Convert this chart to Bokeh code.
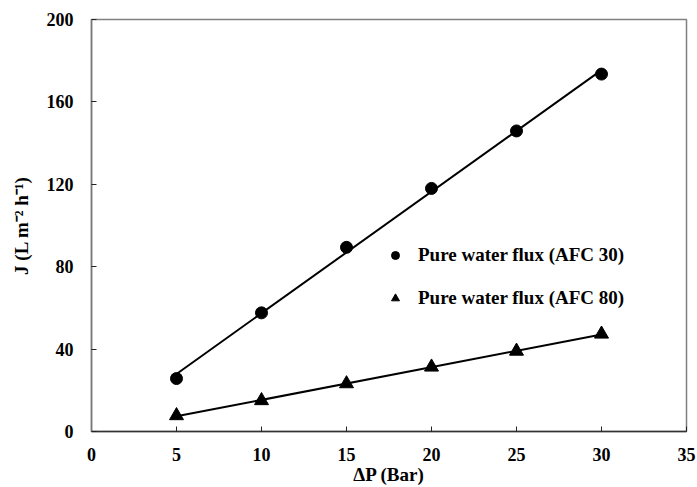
import numpy as np
from bokeh.plotting import figure
from bokeh.models import Range1d, FixedTicker, Legend, LegendItem
from bokeh.embed import file_html
from bokeh.resources import INLINE

pressure = [5, 10, 15, 20, 25, 30]
flux_afc30 = [25.7, 57.6, 89.4, 118.0, 145.9, 173.5]
flux_afc80 = [7.7, 15.0, 23.2, 31.3, 39.0, 47.3]
x_ticks = [0, 5, 10, 15, 20, 25, 30, 35]
y_ticks = [0, 40, 80, 120, 160, 200]
label_30 = "Pure water flux (AFC 30)"
label_80 = "Pure water flux (AFC 80)"

FONT = "Liberation Serif"

p = figure(width=697, height=487, output_backend="svg", toolbar_location=None,
           x_range=Range1d(0, 35), y_range=Range1d(0, 200),
           min_border_left=91, min_border_right=11, min_border_top=19, min_border_bottom=55)
p.outline_line_color = "#808080"
p.outline_line_width = 1.5
p.xgrid.visible = False
p.ygrid.visible = False
p.background_fill_color = "white"
p.border_fill_color = "white"

p.xaxis.ticker = FixedTicker(ticks=x_ticks)
p.yaxis.ticker = FixedTicker(ticks=y_ticks)
for ax in (p.xaxis[0], p.yaxis[0]):
    ax.major_tick_in = 5
    ax.major_tick_out = 0
    ax.minor_tick_line_color = None
    ax.major_tick_line_color = "#222222"
    ax.major_label_text_font = FONT
    ax.major_label_text_font_style = "bold"
    ax.major_label_text_font_size = "18px"
    ax.major_label_text_color = "black"
    ax.axis_label_text_font = FONT
    ax.axis_label_text_font_style = "bold"
    ax.axis_label_text_font_size = "19px"
    ax.axis_label_text_color = "black"
    ax.axis_line_width = 1.5
p.xaxis.axis_line_color = "#333333"
p.yaxis.axis_line_color = "#777777"
p.xaxis.axis_label = "ΔP (Bar)"
p.yaxis.axis_label = "J (L m⁻² h⁻¹)"
p.xaxis.major_label_standoff = 16
p.xaxis.axis_label_standoff = 0
p.yaxis.major_label_standoff = 18
p.yaxis.axis_label_standoff = 12

xs = np.array(pressure, dtype=float)
for ys in (flux_afc30, flux_afc80):
    m, b = np.polyfit(xs, np.array(ys), 1)
    p.line([xs[0], xs[-1]], [m * xs[0] + b, m * xs[-1] + b], line_color="black", line_width=2)

r30 = p.scatter(pressure, flux_afc30, marker="circle", size=12, fill_color="black", line_color="black")
r80 = p.scatter(pressure, flux_afc80, marker="triangle", size=14, fill_color="black", line_color="black")

legend = Legend(items=[LegendItem(label=label_30, renderers=[r30]),
                       LegendItem(label=label_80, renderers=[r80])],
                location=(294, 122), border_line_color=None, background_fill_alpha=0,
                padding=10, spacing=21, glyph_width=20, glyph_height=20, label_height=20,
                label_standoff=13, margin=0,
                label_text_font=FONT, label_text_font_style="bold",
                label_text_font_size="19px", label_text_color="black")
p.add_layout(legend, "center")

open("out.html", "w").write(file_html(p, INLINE))
